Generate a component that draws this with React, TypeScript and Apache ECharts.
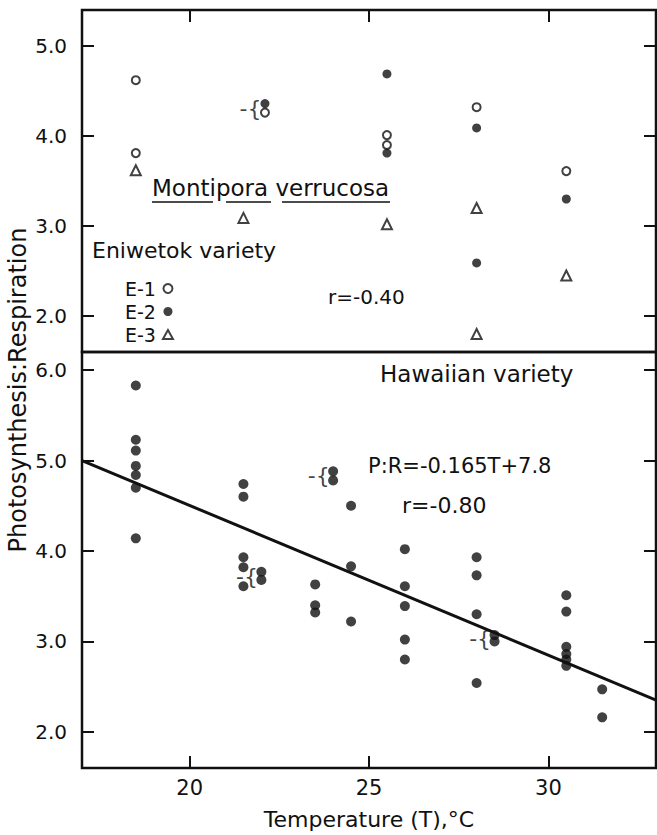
import React, { useEffect, useRef } from "react";
import * as echarts from "echarts";

// ---- data ----
const xRange = [17, 33];
const xTicks = [20, 25, 30];
const topRange = [1.6, 5.4];
const topTicks = [2, 3, 4, 5];
const bottomRange = [1.6, 6.2];
const bottomTicks = [2, 3, 4, 5, 6];

// Eniwetok variety (upper panel)
const e1Open = [[18.5, 4.62], [18.5, 3.81], [22.1, 4.26], [25.5, 4.01], [25.5, 3.9], [28.0, 4.32], [30.5, 3.61]];
const e2Filled = [[22.1, 4.36], [25.5, 4.69], [25.5, 3.81], [28.0, 4.09], [28.0, 2.59], [30.5, 3.3]];
const e3Triangle = [[18.5, 3.62], [21.5, 3.09], [25.5, 3.02], [28.0, 3.2], [28.0, 1.8], [30.5, 2.45]];
const topBrackets = [[22.1, 4.31]];

// Hawaiian variety (lower panel)
const hawaiian = [
  [18.5, 5.83], [18.5, 5.23], [18.5, 5.11], [18.5, 4.94], [18.5, 4.84], [18.5, 4.7], [18.5, 4.14],
  [21.5, 4.74], [21.5, 4.6], [21.5, 3.93], [21.5, 3.82], [21.5, 3.61],
  [22.0, 3.77], [22.0, 3.68],
  [23.5, 3.63], [23.5, 3.4], [23.5, 3.32],
  [24.0, 4.88], [24.0, 4.78],
  [24.5, 4.5], [24.5, 3.83], [24.5, 3.22],
  [26.0, 4.02], [26.0, 3.61], [26.0, 3.39], [26.0, 3.02], [26.0, 2.8],
  [28.0, 3.93], [28.0, 3.73], [28.0, 3.3], [28.0, 2.54],
  [28.5, 3.07], [28.5, 3.0],
  [30.5, 3.51], [30.5, 3.33], [30.5, 2.94], [30.5, 2.86], [30.5, 2.8], [30.5, 2.73],
  [31.5, 2.47], [31.5, 2.16],
];
const bottomBrackets = [[22.0, 3.72], [24.0, 4.83], [28.5, 3.03]];
const fitLine = [[17, 5.0], [33, 2.35]];

const INK = "#111";
const FONT = "'DejaVu Sans', 'Liberation Sans', sans-serif";

export default function App() {
  const ref = useRef<HTMLDivElement>(null);
  useEffect(() => {
    if (!ref.current) return;
    const chart = echarts.init(ref.current, null, { renderer: "svg" });
    const tick = (vals: number[]) => ({ show: true, inside: true, length: 12, customValues: vals, lineStyle: { color: INK, width: 2 } });
    const gridBase = { left: 82, width: 574, show: true, borderColor: INK, borderWidth: 2.5, backgroundColor: "transparent" };
    const xBase = { type: "value" as const, min: xRange[0], max: xRange[1], axisLine: { show: false }, splitLine: { show: false } };
    const yBase = (range: number[]) => ({ type: "value" as const, min: range[0], max: range[1], axisLine: { show: false }, splitLine: { show: false } });
    const bracketLabel = {
      show: true, position: "left" as const, distance: 3, formatter: "-{", color: INK, fontSize: 22, fontFamily: FONT,
    };
    const yLabel = (vals: number[]) => ({
      show: true, customValues: vals, formatter: (v: number) => v.toFixed(1), fontSize: 20, color: INK, margin: 15, fontFamily: FONT,
    });
    const option: any = {
      animation: false,
      backgroundColor: "#fff",
      textStyle: { fontFamily: FONT, color: INK },
      grid: [
        { ...gridBase, top: 10, height: 342 },
        { ...gridBase, top: 352, height: 416 },
      ],
      xAxis: [
        { ...xBase, gridIndex: 0, position: "top", axisTick: tick(xTicks), axisLabel: { show: false } },
        {
          ...xBase, gridIndex: 1, position: "bottom", axisTick: tick(xTicks),
          axisLabel: { show: true, customValues: xTicks, fontSize: 21, color: INK, margin: 9, fontFamily: FONT },
          name: "Temperature (T),°C", nameLocation: "middle", nameGap: 40,
          nameTextStyle: { fontSize: 22, color: INK, fontFamily: FONT },
        },
      ],
      yAxis: [
        { ...yBase(topRange), gridIndex: 0, position: "left", axisTick: tick(topTicks), axisLabel: yLabel(topTicks) },
        { ...yBase(topRange), gridIndex: 0, position: "right", axisTick: tick(topTicks), axisLabel: { show: false } },
        { ...yBase(bottomRange), gridIndex: 1, position: "left", axisTick: tick(bottomTicks), axisLabel: yLabel(bottomTicks) },
        { ...yBase(bottomRange), gridIndex: 1, position: "right", axisTick: tick(bottomTicks), axisLabel: { show: false } },
      ],
      legend: {
        data: ["E-1", "E-2", "E-3"], orient: "vertical", left: 120, top: 274, align: "right",
        itemGap: 4, itemWidth: 10, itemHeight: 9, selectedMode: false,
        textStyle: { fontSize: 19, lineHeight: 19, color: INK, fontFamily: FONT, padding: [0, 2, 0, 0] },
      },
      series: [
        {
          name: "E-1", type: "scatter", xAxisIndex: 0, yAxisIndex: 0, data: e1Open, symbol: "circle", symbolSize: 8,
          itemStyle: { color: "#fff", borderColor: INK, borderWidth: 2 },
        },
        {
          name: "E-2", type: "scatter", xAxisIndex: 0, yAxisIndex: 0, data: e2Filled, symbol: "circle", symbolSize: 9,
          itemStyle: { color: INK },
        },
        {
          name: "E-3", type: "scatter", xAxisIndex: 0, yAxisIndex: 0, data: e3Triangle, symbol: "triangle", symbolSize: 10,
          itemStyle: { color: "#fff", borderColor: INK, borderWidth: 2 },
        },
        {
          name: "pairsTop", type: "scatter", xAxisIndex: 0, yAxisIndex: 0, data: topBrackets, symbolSize: 1,
          itemStyle: { color: "rgba(0,0,0,0)" }, label: bracketLabel, silent: true,
        },
        {
          name: "fit", type: "line", xAxisIndex: 1, yAxisIndex: 2, data: fitLine, symbol: "none",
          lineStyle: { color: INK, width: 3 }, z: 1,
        },
        {
          name: "Hawaiian", type: "scatter", xAxisIndex: 1, yAxisIndex: 2, data: hawaiian, symbol: "circle", symbolSize: 10,
          itemStyle: { color: INK }, z: 3,
        },
        {
          name: "pairsBottom", type: "scatter", xAxisIndex: 1, yAxisIndex: 2, data: bottomBrackets, symbolSize: 1,
          itemStyle: { color: "rgba(0,0,0,0)" }, label: bracketLabel, silent: true,
        },
      ],
      graphic: [
        {
          type: "text", x: 18, y: 390, rotation: Math.PI / 2,
          style: { text: "Photosynthesis:Respiration", fontSize: 24, fontFamily: FONT, fill: INK, textAlign: "center", textVerticalAlign: "middle" },
        },
        { type: "text", x: 152, y: 188, style: { text: "Montipora verrucosa", fontSize: 23, fontFamily: FONT, fill: INK, textVerticalAlign: "middle" } },
        { type: "line", shape: { x1: 152, y1: 202, x2: 213, y2: 202 }, style: { stroke: INK, lineWidth: 1.5 } },
        { type: "line", shape: { x1: 226, y1: 202, x2: 271, y2: 202 }, style: { stroke: INK, lineWidth: 1.5 } },
        { type: "line", shape: { x1: 282, y1: 202, x2: 390, y2: 202 }, style: { stroke: INK, lineWidth: 1.5 } },
        { type: "text", x: 92, y: 250, style: { text: "Eniwetok variety", fontSize: 22, fontFamily: FONT, fill: INK, textVerticalAlign: "middle" } },
        { type: "text", x: 328, y: 297, style: { text: "r=-0.40", fontSize: 20, fontFamily: FONT, fill: INK, textVerticalAlign: "middle" } },
        { type: "text", x: 380, y: 374, style: { text: "Hawaiian variety", fontSize: 23, fontFamily: FONT, fill: INK, textVerticalAlign: "middle" } },
        { type: "text", x: 368, y: 466, style: { text: "P:R=-0.165T+7.8", fontSize: 21, fontFamily: FONT, fill: INK, textVerticalAlign: "middle" } },
        { type: "text", x: 402, y: 505, style: { text: "r=-0.80", fontSize: 22, fontFamily: FONT, fill: INK, textVerticalAlign: "middle" } },
      ],
    };
    chart.setOption(option);
    return () => chart.dispose();
  }, []);
  return (
    <div
      ref={ref}
      style={{ position: "fixed", left: 0, top: 0, width: 657, height: 835, background: "#fff" }}
    />
  );
}
